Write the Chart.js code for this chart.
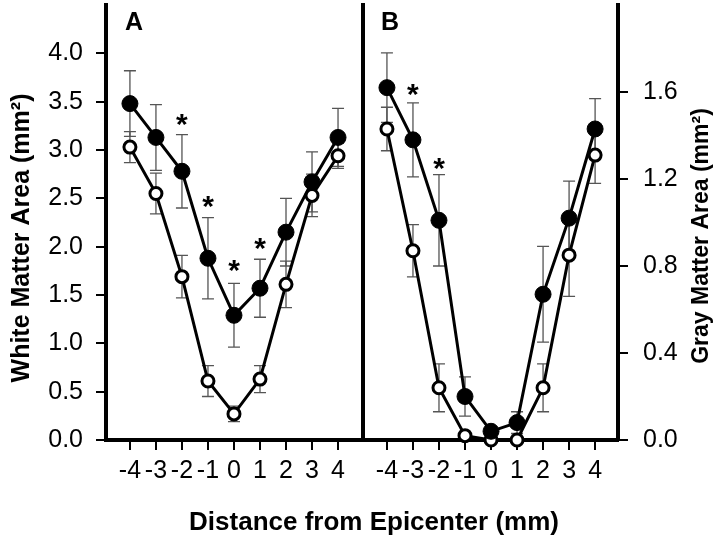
<!DOCTYPE html>
<html>
<head>
<meta charset="utf-8">
<script src="https://cdn.jsdelivr.net/npm/chart.js@4.4.1/dist/chart.umd.min.js"></script>
<style>
  body { margin: 0; background: #fff; }
  #wrap { position: relative; width: 720px; height: 537px; }
  canvas { position: absolute; top: 0; }
  #xtitle {
    position: absolute; top: 506px; left: 374px; transform: translateX(-50%);
    font: bold 26px "Liberation Sans", Arial, sans-serif; line-height: 30px;
    white-space: nowrap; color: #000;
  }
</style>
</head>
<body>
<div id="wrap">
  <canvas id="chartA" width="363" height="537" style="left:0"></canvas>
  <canvas id="chartB" width="359" height="537" style="left:361px"></canvas>
  <div id="xtitle">Distance from Epicenter (mm)</div>
</div>
<script>
const distances = [-4, -3, -2, -1, 0, 1, 2, 3, 4];

// panel A - white matter
const whiteFilled = [3.48, 3.13, 2.78, 1.88, 1.29, 1.57, 2.15, 2.67, 3.13];
const whiteFilledErr = [0.34, 0.34, 0.38, 0.42, 0.33, 0.30, 0.35, 0.31, 0.30];
const whiteOpen = [3.03, 2.55, 1.69, 0.61, 0.27, 0.63, 1.61, 2.53, 2.94];
const whiteOpenErr = [0.16, 0.21, 0.22, 0.16, 0.08, 0.14, 0.24, 0.22, 0.13];
const whiteTicks = [0, 0.5, 1, 1.5, 2, 2.5, 3, 3.5, 4];
const whiteStarX = [-2, -1, 0, 1];
const whiteStarY = [3.33, 2.48, 1.82, 2.05];

// panel B - gray matter
const grayFilled = [1.62, 1.38, 1.01, 0.20, 0.04, 0.08, 0.67, 1.02, 1.43];
const grayFilledErr = [0.16, 0.17, 0.21, 0.09, 0.02, 0.05, 0.22, 0.17, 0.14];
const grayOpen = [1.43, 0.87, 0.24, 0.02, 0.0, 0.0, 0.24, 0.85, 1.31];
const grayOpenErr = [0.10, 0.12, 0.11, 0, 0, 0, 0.11, 0.19, 0.13];
const grayTicks = [0, 0.4, 0.8, 1.2, 1.6];
const grayStarX = [-3, -2];
const grayStarY = [1.62, 1.28];

const FONT = '"Liberation Sans", Arial, sans-serif';
Chart.defaults.font.family = FONT;
Chart.defaults.color = "#000";

function series(vals, errs, filled) {
  return {
    data: distances.map((d, i) => ({ x: d, y: vals[i] })),
    errors: errs,
    borderColor: "#000",
    borderWidth: 3,
    pointRadius: filled ? 8 : 6,
    pointBorderWidth: filled ? 1 : 3,
    pointBackgroundColor: filled ? "#000" : "#fff",
    pointBorderColor: "#000",
    clip: false,
    tension: 0,
  };
}

const errorBars = {
  id: "errorBars",
  beforeDatasetsDraw(chart) {
    const { ctx } = chart;
    const x = chart.scales.x, y = chart.scales.y;
    ctx.save();
    ctx.strokeStyle = "#555";
    ctx.lineWidth = 1.3;
    chart.data.datasets.forEach((ds) => {
      if (!ds.errors) return;
      ds.data.forEach((p, i) => {
        const e = ds.errors[i];
        if (!e) return;
        const px = x.getPixelForValue(p.x);
        const top = y.getPixelForValue(p.y + e);
        const bot = y.getPixelForValue(p.y - e);
        ctx.beginPath();
        ctx.moveTo(px, top); ctx.lineTo(px, bot);
        ctx.moveTo(px - 6, top); ctx.lineTo(px + 6, top);
        ctx.moveTo(px - 6, bot); ctx.lineTo(px + 6, bot);
        ctx.stroke();
      });
    });
    ctx.restore();
  },
};

// titles, panel letter, asterisks, divider
function decor(texts, starX, starY, divider) {
  return {
    id: "decor",
    afterDraw(chart) {
      const { ctx, chartArea } = chart;
      const x = chart.scales.x, y = chart.scales.y;
      ctx.save();
      ctx.fillStyle = "#000";
      texts.forEach((t) => {
        ctx.save();
        ctx.translate(t.x, t.y);
        ctx.rotate(t.rot || 0);
        ctx.font = t.font;
        ctx.textAlign = "center";
        ctx.textBaseline = "middle";
        ctx.fillText(t.text, 0, 0);
        ctx.restore();
      });
      ctx.font = "bold 30px " + FONT;
      ctx.textAlign = "center";
      ctx.textBaseline = "alphabetic";
      starX.forEach((sx, i) => {
        ctx.fillText("*", x.getPixelForValue(sx), y.getPixelForValue(starY[i]) + 16);
      });
      if (divider) {
        ctx.strokeStyle = "#000";
        ctx.lineWidth = 4;
        ctx.beginPath();
        ctx.moveTo(chartArea.left, chartArea.top - 2);
        ctx.lineTo(chartArea.left, chartArea.bottom);
        ctx.stroke();
      }
      ctx.restore();
    },
  };
}

function noPad(s) {
  s.paddingTop = 0; s.paddingBottom = 0; s.paddingLeft = 0; s.paddingRight = 0;
}

function makeChart(id, datasets, cfg) {
  return new Chart(document.getElementById(id), {
    type: "line",
    data: { datasets: datasets },
    options: {
      responsive: false,
      animation: false,
      events: [],
      layout: { padding: cfg.padding, autoPadding: false },
      plugins: { legend: { display: false }, tooltip: { enabled: false } },
      scales: {
        x: {
          type: "linear",
          min: cfg.xMin,
          max: cfg.xMax,
          afterBuildTicks: (s) => { s.ticks = distances.map((v) => ({ value: v })); },
          afterFit: (s) => { s.height = 97; noPad(s); },
          ticks: {
            font: { size: 25 },
            color: "#000",
            autoSkip: false,
            maxRotation: 0,
            minRotation: 0,
            padding: 6,
          },
          grid: { drawOnChartArea: false, color: "#000", tickLength: 10, lineWidth: 2 },
          border: { color: "#000", width: 4 },
        },
        y: {
          position: cfg.yPos,
          min: 0,
          max: cfg.yMax,
          afterBuildTicks: (s) => { s.ticks = cfg.yTicks.map((v) => ({ value: v })); },
          afterFit: (s) => { s.width = cfg.yWidth; noPad(s); },
          ticks: {
            font: { size: 25 },
            color: "#000",
            padding: cfg.yPad,
            callback: (v) => Number(v).toFixed(1),
          },
          grid: { drawOnChartArea: false, color: "#000", tickLength: 10, lineWidth: 2 },
          border: { color: "#000", width: 4 },
        },
      },
    },
    plugins: [errorBars, cfg.decor],
  });
}

makeChart("chartA",
  [series(whiteFilled, whiteFilledErr, true), series(whiteOpen, whiteOpenErr, false)],
  {
    padding: { left: 0, right: 0, top: 5, bottom: 0 },
    xMin: -4.92, xMax: 4.96,
    yPos: "left", yMax: 4.5, yTicks: whiteTicks, yWidth: 106, yPad: 13,
    decor: decor([
      { text: "White Matter Area (mm\u00B2)", x: 22, y: 238, rot: -Math.PI / 2, font: "bold 25px " + FONT },
      { text: "A", x: 134, y: 23, font: "bold 25px " + FONT },
    ], whiteStarX, whiteStarY, false),
  });

makeChart("chartB",
  [series(grayFilled, grayFilledErr, true), series(grayOpen, grayOpenErr, false)],
  {
    padding: { left: 2, right: 0, top: 5, bottom: 0 },
    xMin: -4.92, xMax: 4.88,
    yPos: "right", yMax: 2.0, yTicks: grayTicks, yWidth: 102, yPad: 15,
    decor: decor([
      { text: "Gray Matter Area (mm\u00B2)", x: 341, y: 236, rot: -Math.PI / 2, font: "bold 23px " + FONT },
      { text: "B", x: 29, y: 23, font: "bold 25px " + FONT },
    ], grayStarX, grayStarY, true),
  });
</script>
</body>
</html>
